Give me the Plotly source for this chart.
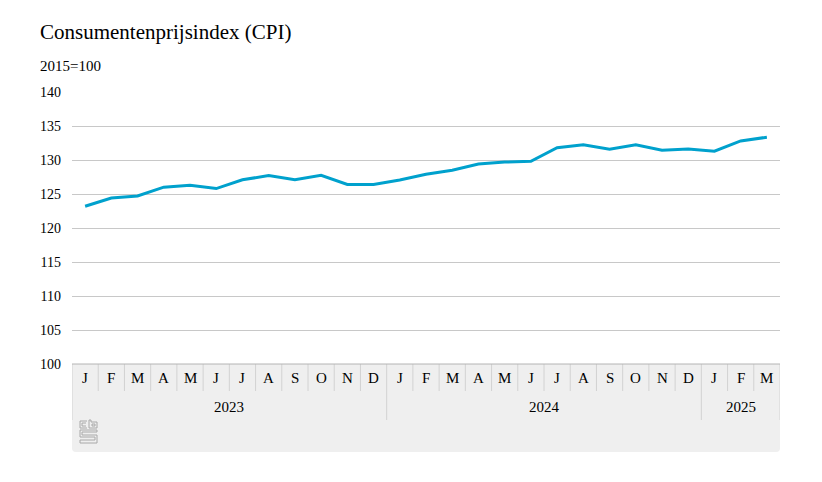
import plotly.graph_objects as go

# ---- data ----
month_letters = ["J", "F", "M", "A", "M", "J", "J", "A", "S", "O", "N", "D",
                 "J", "F", "M", "A", "M", "J", "J", "A", "S", "O", "N", "D",
                 "J", "F", "M"]
period_years = ["2023"] * 12 + ["2024"] * 12 + ["2025"] * 3
cpi_values = [123.2, 124.4, 124.7, 126.0, 126.3, 125.8, 127.1, 127.7, 127.1, 127.75, 126.4, 126.4,
              127.05, 127.9, 128.5, 129.4, 129.7, 129.8, 131.8, 132.25, 131.6, 132.25, 131.45, 131.6,
              131.3, 132.8, 133.35]
y_ticks = [100, 105, 110, 115, 120, 125, 130, 135, 140]

title_text = "Consumentenprijsindex (CPI)"
unit_text = "2015=100"

FONT = "Liberation Serif, Times New Roman, serif"
LINE_COLOR = "#00a1cd"
BAND_COLOR = "#efefef"
SEP_COLOR = "#d2d2d2"
GRID_COLOR = "#c8c8c8"

n = len(cpi_values)
xs = list(range(n))

fig = go.Figure()
fig.add_trace(go.Scatter(x=xs, y=cpi_values, mode="lines",
                         line=dict(color=LINE_COLOR, width=3),
                         hoverinfo="y", showlegend=False))

# the page body adds an 8px offset; compensate
OFF = 8
W, H = 822 - OFF, 482 - OFF
ml, mr, mt, mb = 72 - OFF, 42, 92 - OFF, 118
pw = W - ml - mr
ph = H - mt - mb  # plot height in px


def py(px_below):
    """convert pixels below the plot bottom to paper y"""
    return -px_below / ph


shapes = []
annotations = []

# grey band under the axis (rounded bottom corners)
band_b = py(88)
rx = 4 / (pw / n)
ry = 4 / ph
x0, x1 = -0.5, n - 0.5
shapes.append(dict(
    type="path", xref="x", yref="paper", layer="below",
    path=(f"M {x0},0 L {x1},0 L {x1},{band_b + ry} Q {x1},{band_b} {x1 - rx},{band_b} "
          f"L {x0 + rx},{band_b} Q {x0},{band_b} {x0},{band_b + ry} Z"),
    fillcolor=BAND_COLOR, line=dict(width=0)))

# separators
year_sep_b = py(56)
month_sep_b = py(27)
for i in range(n + 1):
    xpos = i - 0.5
    is_year_edge = (i == 0 or i == n or period_years[i] != period_years[i - 1])
    shapes.append(dict(type="line", xref="x", yref="paper",
                       x0=xpos, x1=xpos, y0=0,
                       y1=year_sep_b if is_year_edge else month_sep_b,
                       line=dict(color=SEP_COLOR, width=1)))
# top border of band
shapes.append(dict(type="line", xref="x", yref="paper", x0=x0, x1=x1, y0=0, y1=0,
                   line=dict(color="#b4b4b4", width=1)))

# month labels
for i, m in enumerate(month_letters):
    annotations.append(dict(x=i, y=py(14), xref="x", yref="paper", text=m,
                            showarrow=False, xanchor="center", yanchor="middle",
                            font=dict(family=FONT, size=15, color="#000")))

# year labels
years_order = []
for y in period_years:
    if y not in years_order:
        years_order.append(y)
for y in years_order:
    idx = [i for i, v in enumerate(period_years) if v == y]
    center = (idx[0] + idx[-1]) / 2
    annotations.append(dict(x=center, y=py(43), xref="x", yref="paper", text=y,
                            showarrow=False, xanchor="center", yanchor="middle",
                            font=dict(family=FONT, size=15, color="#000")))

# CBS logo (simple outline drawing, pixel-sized, anchored at band left/top)
logo_color = "#a8a8a8"
logo_paths = [
    # c
    "M 15,-57 L 8,-57 L 8,-64 L 15,-64",
    "M 14,-59 L 10,-59 L 10,-62 L 14,-62",
    # b
    "M 17,-56 L 17,-64 L 25,-64 L 25,-58 L 19,-58 L 19,-56 Z",
    "M 20,-60 L 23,-60 L 23,-62 L 20,-62 Z",
    # s
    "M 25,-66 L 8,-66 L 8,-73 L 23,-73 L 23,-76 L 8,-76 L 8,-79 L 25,-79 L 25,-71 L 10,-71 L 10,-68 L 25,-68 Z",
]
for p in logo_paths:
    shapes.append(dict(type="path", xref="x", yref="paper",
                       xsizemode="pixel", ysizemode="pixel",
                       xanchor=-0.5, yanchor=0, path=p,
                       line=dict(color=logo_color, width=1)))

# title and unit
annotations.append(dict(x=(38 - OFF - ml) / pw, y=(H - mb - (32 - OFF)) / ph,
                        xref="paper", yref="paper", text=title_text, showarrow=False,
                        xanchor="left", yanchor="middle",
                        font=dict(family=FONT, size=21, color="#000")))
annotations.append(dict(x=(38 - OFF - ml) / pw, y=(H - mb - (66 - OFF)) / ph,
                        xref="paper", yref="paper", text=unit_text, showarrow=False,
                        xanchor="left", yanchor="middle",
                        font=dict(family=FONT, size=15, color="#000")))

fig.update_layout(
    width=W, height=H,
    margin=dict(l=ml, r=mr, t=mt, b=mb, pad=0),
    paper_bgcolor="white", plot_bgcolor="white",
    font=dict(family=FONT, size=14, color="#000"),
    shapes=shapes, annotations=annotations,
    xaxis=dict(range=[-0.5, n - 0.5], showgrid=False, zeroline=False,
               showticklabels=False, ticks="", showline=False, fixedrange=True),
    yaxis=dict(range=[100, 140], tickvals=y_ticks, showgrid=True,
               gridcolor=GRID_COLOR, gridwidth=1, zeroline=False, showline=False,
               ticks="", ticklabelstandoff=10,
               tickfont=dict(family=FONT, size=14, color="#000"), fixedrange=True),
    showlegend=False,
)

fig.write_html("out.html")
